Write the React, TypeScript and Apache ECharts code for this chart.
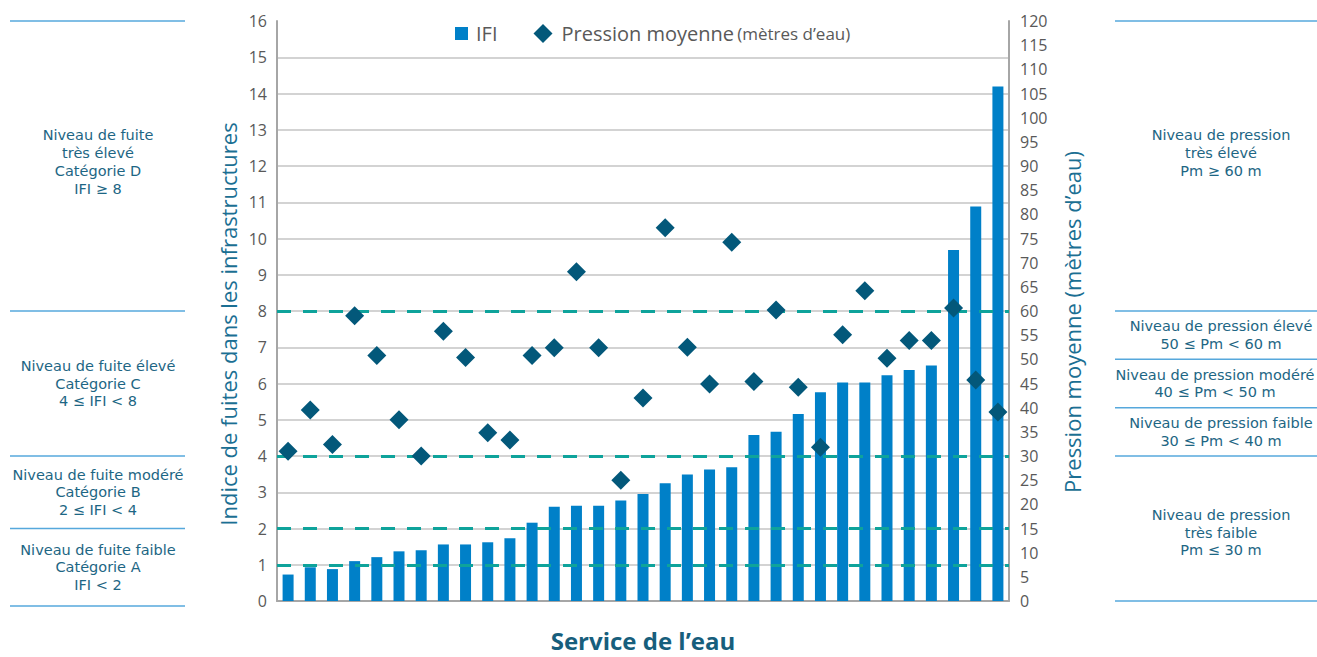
import React, { useEffect, useRef } from "react";
import * as echarts from "echarts";

const services = [
  "S1", "S2", "S3", "S4", "S5", "S6", "S7", "S8", "S9", "S10", "S11",
  "S12", "S13", "S14", "S15", "S16", "S17", "S18", "S19", "S20", "S21", "S22",
  "S23", "S24", "S25", "S26", "S27", "S28", "S29", "S30", "S31", "S32", "S33",
];

const ifiValues = [
  0.73, 0.93, 0.88, 1.1, 1.21, 1.37, 1.4, 1.56, 1.56, 1.62, 1.73,
  2.16, 2.6, 2.63, 2.63, 2.77, 2.95, 3.25, 3.49, 3.63, 3.69, 4.58,
  4.67, 5.16, 5.76, 6.03, 6.03, 6.23, 6.37, 6.5, 9.68, 10.88, 14.19,
];

const pressureValues = [
  31.0, 39.5, 32.4, 59.0, 50.8, 37.5, 30.0, 55.8, 50.4, 34.8, 33.3,
  50.8, 52.4, 68.1, 52.4, 25.0, 42.0, 77.2, 52.5, 44.9, 74.2, 45.4,
  60.2, 44.2, 31.8, 55.1, 64.2, 50.2, 53.9, 53.9, 60.6, 45.7, 39.1,
];

const ifiThresholds = [1, 2, 4, 8];

const leftTitle = "Indice de fuites dans les infrastructures";
const rightTitle = "Pression moyenne (mètres d’eau)";
const xTitle = "Service de l’eau";

// Left panel: leak categories (IFI bounds)
const leftBounds = [16, 8, 4, 2, 0];
const leftTexts = [
  "Niveau de fuite\ntrès élevé\nCatégorie D\nIFI ≥ 8",
  "Niveau de fuite élevé\nCatégorie C\n4 ≤ IFI < 8",
  "Niveau de fuite modéré\nCatégorie B\n2 ≤ IFI < 4",
  "Niveau de fuite faible\nCatégorie A\nIFI < 2",
];

// Right panel: pressure categories (m bounds)
const rightBounds = [120, 60, 50, 40, 30, 0];
const rightTexts = [
  "Niveau de pression\ntrès élevé\nPm ≥ 60 m",
  "Niveau de pression élevé\n50 ≤ Pm < 60 m",
  "Niveau de pression modéré\n40 ≤ Pm < 50 m",
  "Niveau de pression faible\n30 ≤ Pm < 40 m",
  "Niveau de pression\ntrès faible\nPm ≤ 30 m",
];

const FONT = "'Open Sans', 'Noto Sans', sans-serif";
const NOTE_FONT = "'DejaVu Sans', sans-serif";
const TITLE_COLOR = "#1b6f93";
const NOTE_COLOR = "#1d6684";
const BAND_LINE = "#56a8dc";

export default function App() {
  const ref = useRef<HTMLDivElement>(null);

  useEffect(() => {
    if (!ref.current) return;
    const chart = echarts.init(ref.current, undefined, { renderer: "svg" });

    chart.setOption({
      animation: false,
      textStyle: { fontFamily: FONT },
      grid: { left: 277, right: 308, top: 21, bottom: 50, containLabel: false },
      legend: {
        left: 452,
        top: 23.5,
        padding: 0,
        itemWidth: 19,
        itemHeight: 19,
        itemGap: 36,
        data: [
          { name: "IFI", icon: "path://M0,0M19,19M3,3L16,3L16,16L3,16Z" },
          { name: "Pression moyenne", icon: "diamond" },
        ],
        formatter: (name: string) =>
          name === "Pression moyenne" ? "{p|Pression moyenne} {b|(mètres d’eau)}" : "{a|" + name + "}",
        textStyle: {
          color: "#595959",
          fontFamily: FONT,
          rich: {
            a: { fontSize: 20, color: "#595959", fontFamily: FONT },
            p: { fontSize: 20, color: "#595959", fontFamily: FONT, padding: [0, 0, 0, 4] },
            b: { fontSize: 17, color: "#595959", fontFamily: FONT },
          },
        },
      },
      xAxis: {
        type: "category",
        data: services,
        axisLabel: { show: false },
        axisTick: { show: false },
        axisLine: { lineStyle: { color: "#a6a6a6", width: 2 } },
        name: xTitle,
        nameLocation: "middle",
        nameGap: 27,
        nameTextStyle: { color: "#175e7c", fontSize: 24, fontWeight: "bold", fontFamily: FONT },
      },
      yAxis: [
        {
          type: "value",
          min: 0,
          max: 16,
          interval: 1,
          position: "left",
          axisLine: { show: true, lineStyle: { color: "#a6a6a6", width: 2 } },
          axisTick: { show: false },
          axisLabel: { color: "#595959", fontSize: 16, margin: 10, fontFamily: FONT },
          splitLine: { show: true, showMaxLine: false, lineStyle: { color: "#c4c4c4", width: 1.5 } },
        },
        {
          type: "value",
          min: 0,
          max: 120,
          interval: 5,
          position: "right",
          axisLine: { show: true, lineStyle: { color: "#a6a6a6", width: 2 } },
          axisTick: { show: false },
          axisLabel: { color: "#595959", fontSize: 16, margin: 11, fontFamily: FONT },
          splitLine: { show: false },
        },
      ],
      series: [
        {
          name: "IFI",
          type: "bar",
          yAxisIndex: 0,
          data: ifiValues,
          barWidth: 11,
          itemStyle: { color: "#0080c8" },
          markLine: {
            silent: true,
            symbol: "none",
            label: { show: false },
            lineStyle: { color: "#0ea39b", type: [14, 12], width: 3 },
            data: ifiThresholds.map((v) => ({ yAxis: v })),
          },
        },
        {
          name: "Pression moyenne",
          type: "scatter",
          yAxisIndex: 1,
          data: pressureValues,
          symbol: "diamond",
          symbolSize: 19,
          z: 10,
          itemStyle: { color: "#03587a", opacity: 1 },
        },
      ],
    });

    const yL = (v: number) => chart.convertToPixel({ yAxisIndex: 0 }, v) as number;
    const yR = (v: number) => chart.convertToPixel({ yAxisIndex: 1 }, v) as number;

    const noteStyle = (t: string) => ({
      text: t,
      fill: NOTE_COLOR,
      font: `14.5px ${NOTE_FONT}`,
      lineHeight: 17.7,
      align: "center",
      verticalAlign: "middle",
    });

    const graphics: any[] = [];

    // axis titles
    graphics.push({
      type: "text",
      x: 228,
      y: 324,
      rotation: Math.PI / 2,
      style: { text: leftTitle, fill: TITLE_COLOR, font: `22px ${FONT}`, align: "center", verticalAlign: "middle" },
      silent: true,
    });
    graphics.push({
      type: "text",
      x: 1072,
      y: 322,
      rotation: Math.PI / 2,
      style: { text: rightTitle, fill: TITLE_COLOR, font: `22px ${FONT}`, align: "center", verticalAlign: "middle" },
      silent: true,
    });

    const leftYs = leftBounds.map((b, i) => yL(b) + (i === leftBounds.length - 1 ? 5 : 0));
    leftYs.forEach((y) => {
      graphics.push({
        type: "line",
        shape: { x1: 10, y1: y, x2: 185, y2: y },
        style: { stroke: BAND_LINE, lineWidth: 1.5 },
        silent: true,
      });
    });
    leftTexts.forEach((t, i) => {
      const cy = (leftYs[i] + leftYs[i + 1]) / 2 - (i === 0 ? 4 : 0);
      graphics.push({ type: "text", x: 98, y: cy, style: noteStyle(t), silent: true });
    });
    const rightYs = rightBounds.map((b) => yR(b));
    rightYs.forEach((y) => {
      graphics.push({
        type: "line",
        shape: { x1: 1115, y1: y, x2: 1317, y2: y },
        style: { stroke: BAND_LINE, lineWidth: 1.5 },
        silent: true,
      });
    });
    rightTexts.forEach((t, i) => {
      const cy = (rightYs[i] + rightYs[i + 1]) / 2 + (i === 0 ? -13 : i === 4 ? 4 : 0);
      const cx = i === 2 ? 1215 : 1221;
      graphics.push({ type: "text", x: cx, y: cy, style: noteStyle(t), silent: true });
    });

    chart.setOption({ graphic: graphics });

    return () => chart.dispose();
  }, []);

  return (
    <div
      ref={ref}
      style={{ position: "fixed", left: 0, top: 0, width: 1317, height: 657, background: "#ffffff" }}
    />
  );
}
